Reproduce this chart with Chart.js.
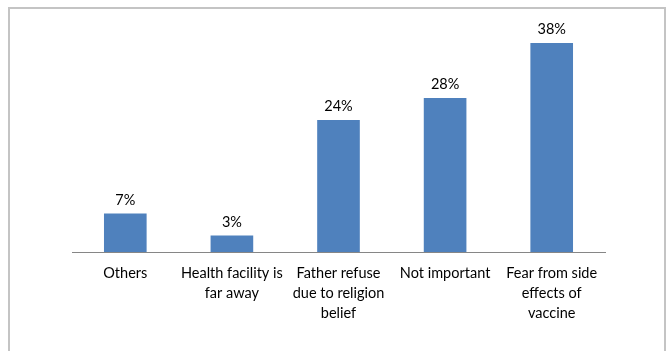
<!DOCTYPE html>
<html>
<head>
<meta charset="utf-8">
<script src="https://cdn.jsdelivr.net/npm/chart.js@4/dist/chart.umd.min.js"></script>
<style>
  html, body { margin: 0; padding: 0; background: #fff; }
  #wrap { position: relative; width: 672px; height: 351px; overflow: hidden; }
  #frame { position: absolute; left: 8px; top: 7px; width: 658px; height: 360px; border: 2px solid #c4c4c4; box-sizing: border-box; }
  canvas { position: absolute; left: 0; top: 0; }
</style>
</head>
<body>
<div id="wrap">
  <div id="frame"></div>
  <canvas id="chart" width="672" height="351"></canvas>
</div>
<script>
const categories = [
  'Others',
  ['Health facility is', 'far away'],
  ['Father refuse', 'due to religion', 'belief'],
  'Not important',
  ['Fear from side', 'effects of', 'vaccine']
];
const percents = [7, 3, 24, 28, 38];

const valueLabels = {
  id: 'valueLabels',
  afterDatasetsDraw(chart) {
    const ctx = chart.ctx;
    const meta = chart.getDatasetMeta(0);
    ctx.save();
    ctx.font = '14.5px Lato, "Open Sans", sans-serif';
    ctx.fillStyle = '#000';
    ctx.textAlign = 'center';
    ctx.textBaseline = 'bottom';
    meta.data.forEach((bar, i) => {
      ctx.fillText(percents[i] + '%', bar.x, bar.y - 6);
    });
    ctx.restore();
  }
};

new Chart(document.getElementById('chart'), {
  type: 'bar',
  data: {
    labels: categories,
    datasets: [{
      data: percents,
      backgroundColor: '#4f81bd',
      borderWidth: 0,
      barPercentage: 0.8,
      categoryPercentage: 0.5
    }]
  },
  options: {
    responsive: false,
    animation: false,
    layout: { padding: { left: 72, right: 67, top: 32, bottom: 0 } },
    plugins: { legend: { display: false }, tooltip: { enabled: false } },
    scales: {
      y: { display: false, min: 0, max: 40 },
      x: {
        grid: { display: false, drawTicks: false },
        border: { display: true, color: '#868686', width: 1 },
        ticks: {
          color: '#000',
          padding: 11,
          maxRotation: 0,
          autoSkip: false,
          font: { family: 'Lato, "Open Sans", sans-serif', size: 14.5, lineHeight: 1.38 }
        },
        afterFit(scale) { scale.height = 99; }
      }
    }
  },
  plugins: [valueLabels]
});
</script>
</body>
</html>
